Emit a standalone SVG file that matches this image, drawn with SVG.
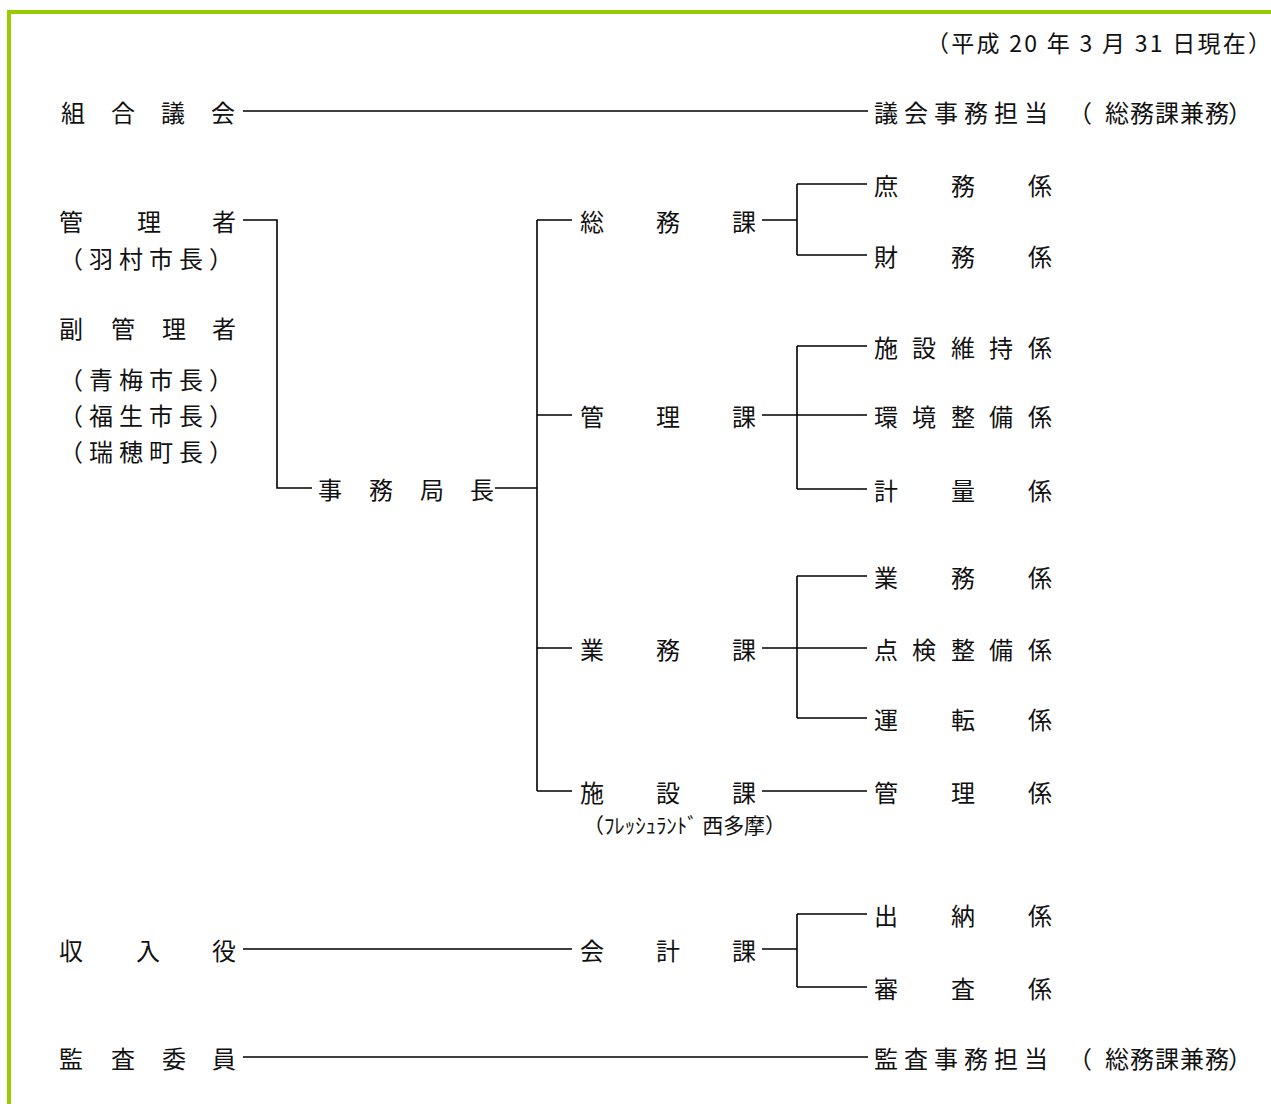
<svg xmlns="http://www.w3.org/2000/svg" width="1271" height="1104" viewBox="0 0 1271 1104">
<style>
.t{font-family:"Noto Sans CJK JP","Noto Sans CJK SC",sans-serif;font-size:24px;fill:#111;dominant-baseline:central}
.s{font-size:21px}
.d{font-size:23px}
.c line,.c path{stroke:#000;stroke-width:1.6;fill:none}
</style>
<rect width="1271" height="1104" fill="#fff"/>
<g id="frame">
<rect x="7" y="10" width="1264" height="4" fill="#99cc00"/>
<rect x="7" y="10" width="4" height="1094" fill="#99cc00"/>
</g>
<text class="t d" x="926" y="42" textLength="345" lengthAdjust="spacing">（平成 20 年 3 月 31 日現在）</text>
<g class="c" id="connectors">
<line x1="243" y1="111" x2="868" y2="111"/>
<path d="M243 220H277V488H312"/>
<path d="M495 488H537"/>
<path d="M537 220V791"/>
<path d="M537 220H572M537 415H572M537 648H572M537 791H572"/>
<path d="M762 220H797M797 184V255M797 184H867M797 255H867"/>
<path d="M762 415H867M797 346V489M797 346H867M797 489H867"/>
<path d="M762 648H867M797 576V718M797 576H867M797 718H867"/>
<path d="M762 791H867"/>
<path d="M243 949H572"/>
<path d="M762 949H797M797 914V987M797 914H867M797 987H867"/>
<line x1="243" y1="1057" x2="868" y2="1057"/>
</g>
<g id="kumiai-gikai"><text class="t" x="61 111 161 211" y="111">組合議会</text></g>
<g id="gikai-jimu"><text class="t" x="874 904 934 964 994 1024" y="111">議会事務担当</text><text class="t" x="1068 1105 1130 1155 1180 1205 1228" y="111">（総務課兼務）</text></g>
<g id="kanrisha"><text class="t" x="59 137 212" y="220">管理者</text><text class="t" x="59 89 119 149 179 209" y="257">（羽村市長）</text></g>
<g id="fuku-kanrisha"><text class="t" x="59 111 162 212" y="327">副管理者</text>
<text class="t" x="59 89 119 149 179 209" y="378">（青梅市長）</text>
<text class="t" x="59 89 119 149 179 209" y="414">（福生市長）</text>
<text class="t" x="59 89 119 149 179 209" y="450">（瑞穂町長）</text></g>
<g id="jimukyokucho"><text class="t" x="318 369 420 470" y="488">事務局長</text></g>
<g id="somuka"><text class="t" x="580 656 732" y="220">総務課</text></g>
<g id="kanrika"><text class="t" x="580 656 732" y="415">管理課</text></g>
<g id="gyomuka"><text class="t" x="580 656 732" y="648">業務課</text></g>
<g id="shisetsuka"><text class="t" x="580 656 732" y="791">施設課</text><text class="t s" x="583" y="824" textLength="203" lengthAdjust="spacing">（ﾌﾚｯｼｭﾗﾝﾄﾞ 西多摩）</text></g>
<g id="kaikeika"><text class="t" x="580 656 732" y="949">会計課</text></g>
<g id="shomu"><text class="t" x="874 951 1028" y="184">庶務係</text></g>
<g id="zaimu"><text class="t" x="874 951 1028" y="255">財務係</text></g>
<g id="shisetsu-iji"><text class="t" x="874 912 951 989 1028" y="346">施設維持係</text></g>
<g id="kankyo-seibi"><text class="t" x="874 912 951 989 1028" y="415">環境整備係</text></g>
<g id="keiryo"><text class="t" x="874 951 1028" y="489">計量係</text></g>
<g id="gyomu"><text class="t" x="874 951 1028" y="576">業務係</text></g>
<g id="tenken-seibi"><text class="t" x="874 912 951 989 1028" y="648">点検整備係</text></g>
<g id="unten"><text class="t" x="874 951 1028" y="718">運転係</text></g>
<g id="kanri"><text class="t" x="874 951 1028" y="791">管理係</text></g>
<g id="suito"><text class="t" x="874 951 1028" y="914">出納係</text></g>
<g id="shinsa"><text class="t" x="874 951 1028" y="987">審査係</text></g>
<g id="shunyuyaku"><text class="t" x="59 136 212" y="949">収入役</text></g>
<g id="kansa-iin"><text class="t" x="59 111 162 212" y="1057">監査委員</text></g>
<g id="kansa-jimu"><text class="t" x="874 904 934 964 994 1024" y="1057">監査事務担当</text><text class="t" x="1068 1105 1130 1155 1180 1205 1228" y="1057">（総務課兼務）</text></g>
</svg>
